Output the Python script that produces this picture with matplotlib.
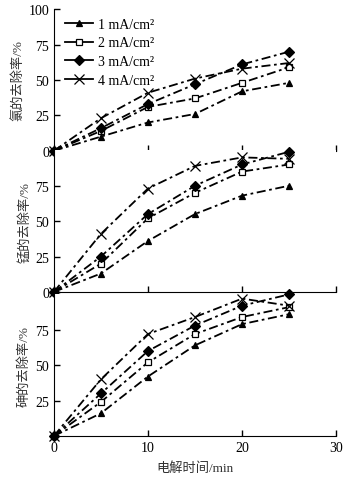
import matplotlib.pyplot as plt
from matplotlib.lines import Line2D

plt.rcParams['font.family'] = ['Liberation Serif', 'Noto Sans CJK SC']

# electrolysis time (min)
time = [0, 5, 10, 15, 20, 25]
labels = ['1 mA/cm²', '2 mA/cm²', '3 mA/cm²', '4 mA/cm²']

# removal rate (%) of chlorine
cl = [[0, 10, 20, 26, 42, 48],
      [0, 14, 31, 37, 48, 59],
      [0, 16, 33, 47, 61, 70],
      [0, 23, 41, 51, 58, 62]]
# removal rate (%) of manganese
mn = [[0, 13, 36, 55, 68, 75],
      [0, 20, 52, 70, 85, 90],
      [0, 25, 55, 75, 90, 99],
      [0, 41, 73, 89, 95, 94]]
# removal rate (%) of arsenic
as_ = [[0, 16, 42, 64, 79, 86],
       [0, 24, 52, 72, 84, 91],
       [0, 30, 60, 78, 92, 100],
       [0, 40, 72, 84, 97, 92]]

ylabels = ['氯的去除率/%', '锰的去除率/%', '砷的去除率/%']
markers = ['^', 's', 'D', 'x']
faces = ['k', 'w', 'k', 'k']
sizes = [5, 5, 5, 7]

fig = plt.figure(figsize=(3.52, 4.85), dpi=100)
left, width = 0.153, 0.802
bottoms = [0.687, 0.396, 0.099]
h = 0.292

axes = []
for i, data in enumerate([cl, mn, as_]):
    ax = fig.add_axes([left, bottoms[i], width, h])
    for j in range(4):
        ax.plot(time, data[j], linestyle=(0, (5, 2, 1.5, 2)), color='k', lw=1.3,
                marker=markers[j], markerfacecolor=faces[j],
                markeredgecolor='k', markersize=sizes[j], mew=0.9,
                clip_on=False, zorder=3)
    ax.set_xlim(0, 30)
    ax.set_ylim(0, 100)
    ax.spines['top'].set_visible(False)
    ax.spines['right'].set_visible(False)
    ax.tick_params(direction='in', labelsize=10, length=4, width=1)
    ax.set_xticks([0, 10, 20, 30])
    ax.set_ylabel(ylabels[i], fontsize=9.5, labelpad=3, color='#333333')
    axes.append(ax)

axes[0].set_yticks([0, 25, 50, 75, 100])
axes[1].set_yticks([0, 25, 50, 75])
axes[2].set_yticks([25, 50, 75])
axes[0].tick_params(labelbottom=False)
axes[1].tick_params(labelbottom=False)
axes[2].set_xlabel('电解时间/min', fontsize=9.5, labelpad=5, color='#333333')

# legend handles drawn with solid lines, as in the original
handles = [Line2D([], [], color='k', lw=1.3, marker=markers[j],
                  markerfacecolor=faces[j], markeredgecolor='k',
                  markersize=sizes[j], mew=0.9) for j in range(4)]
axes[0].legend(handles, labels, loc='upper left', frameon=False, fontsize=10,
               handlelength=2.0, handletextpad=0.4, labelspacing=0.42,
               borderaxespad=0.0, bbox_to_anchor=(0.02, 0.98))

fig.savefig('out.png', dpi=100)
